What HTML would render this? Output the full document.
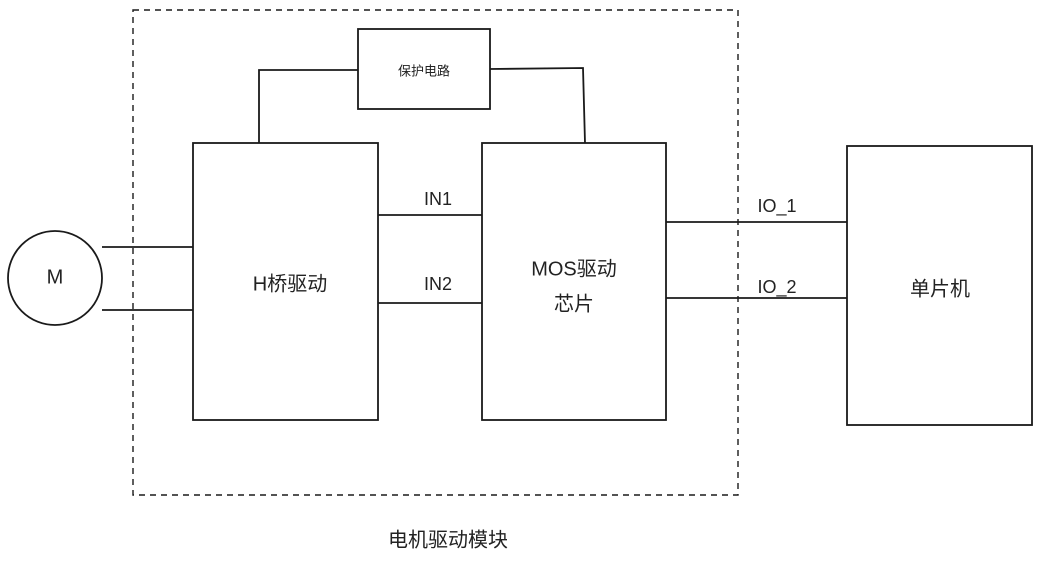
<!DOCTYPE html>
<html><head><meta charset="utf-8"><style>
html,body{margin:0;padding:0;background:#fff;}
svg{display:block}
text{font-family:"Liberation Sans","Noto Sans CJK SC",sans-serif;fill:#222;text-anchor:middle;dominant-baseline:middle}
</style></head><body>
<svg width="1042" height="562" viewBox="0 0 1042 562">
<g fill="none" stroke="#1a1a1a" stroke-width="1.8">
<rect x="133" y="10" width="605" height="485" stroke-dasharray="6,5" stroke-width="1.4"/>
<rect x="358" y="29" width="132" height="80"/>
<polyline points="259,143 259,70 358,70"/>
<polyline points="490,69 583,68 585,143"/>
<rect x="193" y="143" width="185" height="277"/>
<rect x="482" y="143" width="184" height="277"/>
<rect x="847" y="146" width="185" height="279"/>
<circle cx="55" cy="278" r="47"/>
<line x1="102" y1="247" x2="193" y2="247"/>
<line x1="102" y1="310" x2="193" y2="310"/>
<line x1="378" y1="215" x2="482" y2="215"/>
<line x1="378" y1="303" x2="482" y2="303"/>
<line x1="666" y1="222" x2="847" y2="222"/>
<line x1="666" y1="298" x2="847" y2="298"/>
</g>
<text x="424" y="72" font-size="13">保护电路</text>
<text x="55" y="278" font-size="20">M</text>
<text x="290" y="285" font-size="20">H桥驱动</text>
<text x="574" y="270" font-size="20">MOS驱动</text>
<text x="574" y="305" font-size="20">芯片</text>
<text x="438" y="200" font-size="18">IN1</text>
<text x="438" y="285" font-size="18">IN2</text>
<text x="777" y="207" font-size="18">IO_1</text>
<text x="777" y="288" font-size="18">IO_2</text>
<text x="940" y="290" font-size="20">单片机</text>
<text x="448" y="541" font-size="20">电机驱动模块</text>
</svg>
</body></html>
